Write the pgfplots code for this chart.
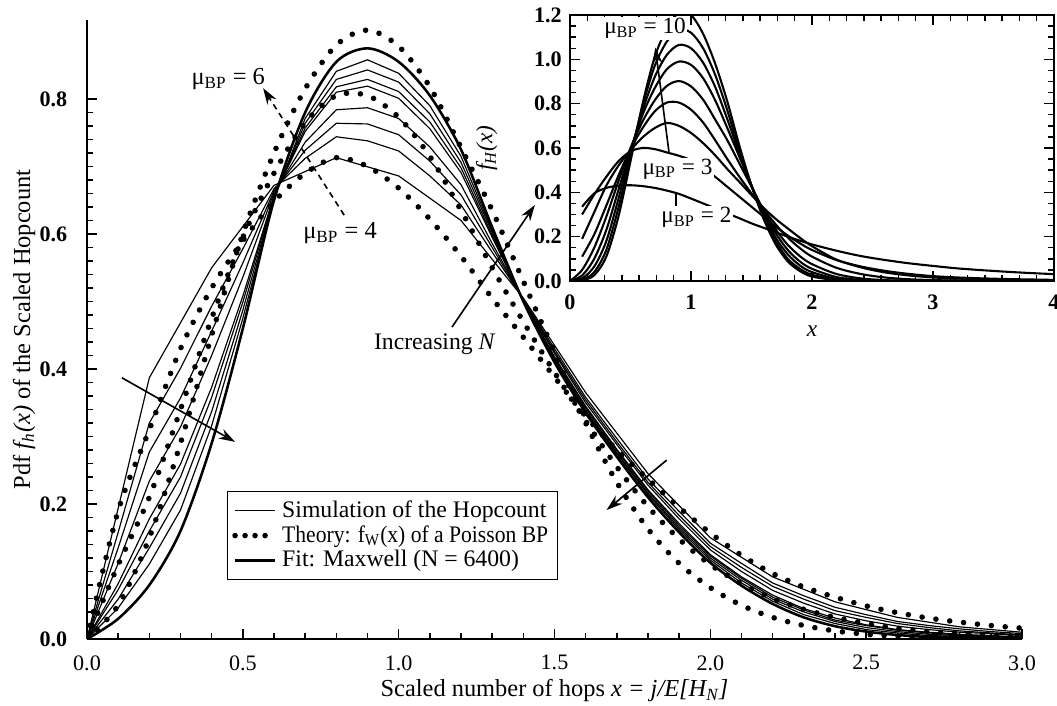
\documentclass[border=0pt]{standalone}
\usepackage{fontspec}
\setmainfont{Liberation Serif}
\usepackage{graphicx}
\usepackage{pgfplots}
\pgfplotsset{compat=1.18}
\usepackage{pgfplotstable}
\usetikzlibrary{arrows.meta}

% main plot: simulations (s..), Maxwell fit, theory mu=4,5,6
\pgfplotstableread{
x   s22   s36   s50   s68   s74   s82   s90   fit   m4    m5    m6
0.0 0     0     0     0     0     0     0     0     0     0     0
0.1 0.158 0.135 0.112 0.082 0.073 0.059 0.046 0.03  0.19  0.11  0.05
0.2 0.320 0.277 0.234 0.178 0.160 0.135 0.111 0.08  0.31  0.21  0.15
0.3 0.401 0.357 0.314 0.259 0.240 0.216 0.191 0.16  0.43  0.34  0.29
0.4 0.493 0.456 0.420 0.373 0.358 0.337 0.316 0.29  0.52  0.475 0.45
0.5 0.578 0.557 0.536 0.508 0.499 0.487 0.475 0.46  0.59  0.595 0.60
0.6 0.667 0.664 0.661 0.657 0.656 0.654 0.652 0.65  0.648 0.69  0.72
0.7 0.712 0.724 0.736 0.752 0.757 0.764 0.771 0.78  0.69  0.765 0.815
0.8 0.744 0.764 0.784 0.810 0.818 0.829 0.841 0.855 0.713 0.805 0.88
0.9 0.738 0.763 0.787 0.819 0.829 0.843 0.858 0.875 0.70  0.805 0.902
1.0 0.723 0.747 0.771 0.801 0.811 0.825 0.838 0.855 0.668 0.773 0.878
1.1 0.686 0.708 0.729 0.756 0.766 0.778 0.790 0.805 0.622 0.715 0.818
1.2 0.643 0.658 0.673 0.691 0.698 0.706 0.715 0.725 0.567 0.635 0.728
1.3 0.573 0.580 0.586 0.595 0.598 0.602 0.605 0.61  0.505 0.55  0.635
1.4 0.504 0.503 0.503 0.502 0.501 0.501 0.501 0.50  0.447 0.47  0.53
1.5 0.430 0.426 0.423 0.418 0.417 0.415 0.413 0.41  0.388 0.395 0.425
1.6 0.358 0.354 0.350 0.345 0.343 0.340 0.338 0.335 0.33  0.323 0.32
1.7 0.297 0.292 0.288 0.281 0.279 0.276 0.274 0.27  0.28  0.255 0.232
1.8 0.237 0.232 0.228 0.221 0.219 0.216 0.214 0.21  0.237 0.196 0.163
1.9 0.189 0.183 0.178 0.171 0.168 0.165 0.162 0.158 0.195 0.148 0.112
2.0 0.142 0.137 0.132 0.125 0.123 0.120 0.117 0.113 0.157 0.11  0.076
2.1 0.112 0.106 0.100 0.092 0.090 0.087 0.083 0.079 0.124 0.082 0.05
2.2 0.083 0.078 0.072 0.065 0.062 0.059 0.056 0.052 0.097 0.06  0.032
2.3 0.064 0.059 0.053 0.045 0.043 0.040 0.036 0.032 0.077 0.044 0.02
2.4 0.047 0.042 0.037 0.031 0.028 0.026 0.023 0.019 0.062 0.032 0.012
2.5 0.036 0.032 0.027 0.021 0.020 0.017 0.014 0.011 0.049 0.023 0.007
2.6 0.026 0.023 0.019 0.014 0.013 0.011 0.009 0.006 0.039 0.016 0.004
2.7 0.020 0.017 0.014 0.010 0.009 0.007 0.005 0.003 0.031 0.011 0.002
2.8 0.015 0.012 0.010 0.007 0.006 0.005 0.004 0.002 0.025 0.008 0.001
2.9 0.011 0.009 0.008 0.005 0.004 0.003 0.002 0.001 0.020 0.006 0.0
3.0 0.008 0.006 0.005 0.003 0.003 0.002 0.001 0.0   0.016 0.004 0.0
}\maintab

% lowest simulation curve (coarse hop grid)
\pgfplotstableread{
x   y
0.0 0
0.2 0.387
0.4 0.55
0.6 0.672
0.8 0.713
1.0 0.686
1.2 0.62
1.4 0.505
1.6 0.365
1.8 0.245
2.0 0.15
2.2 0.092
2.4 0.055
2.6 0.032
2.8 0.018
3.0 0.01
}\lowsim

% inset: f_W(x) for mu = 2..10
\pgfplotstableread{
x   m2    m3    m4    m5    m6    m7    m8    m9    m10
0.0 nan   nan   nan   nan   0     0     0     0     0
0.1 0.335 0.30  0.19  0.11  0.05  0.025 0.012 0.006 0.003
0.2 0.395 0.39  0.31  0.21  0.15  0.10  0.065 0.04  0.026
0.3 0.42  0.47  0.43  0.34  0.29  0.23  0.18  0.14  0.11
0.4 0.43  0.54  0.52  0.475 0.45  0.41  0.37  0.33  0.29
0.5 0.432 0.585 0.59  0.595 0.60  0.59  0.58  0.56  0.54
0.6 0.428 0.60  0.648 0.69  0.72  0.75  0.77  0.79  0.80
0.7 0.42  0.595 0.69  0.765 0.815 0.87  0.92  0.97  1.01
0.8 0.408 0.58  0.713 0.805 0.88  0.955 1.02  1.08  1.14
0.9 0.393 0.565 0.70  0.805 0.902 0.99  1.065 1.133 1.21
1.0 0.372 0.545 0.668 0.773 0.878 0.975 1.05  1.12  1.20
1.1 0.35  0.51  0.622 0.715 0.818 0.915 0.985 1.05  1.115
1.2 0.328 0.47  0.567 0.635 0.728 0.815 0.875 0.93  0.98
1.3 0.305 0.425 0.505 0.55  0.635 0.69  0.73  0.77  0.81
1.4 0.283 0.38  0.447 0.47  0.53  0.56  0.575 0.59  0.61
1.5 0.26  0.335 0.388 0.395 0.425 0.43  0.43  0.43  0.43
1.6 0.24  0.29  0.33  0.323 0.32  0.31  0.30  0.29  0.28
1.7 0.22  0.245 0.28  0.255 0.232 0.215 0.195 0.18  0.165
1.8 0.20  0.205 0.237 0.196 0.163 0.14  0.12  0.10  0.088
1.9 0.182 0.17  0.195 0.148 0.112 0.088 0.07  0.055 0.045
2.0 0.165 0.14  0.157 0.11  0.076 0.055 0.04  0.028 0.02
2.2 0.137 0.095 0.097 0.06  0.032 0.018 0.01  0.006 0.004
2.4 0.113 0.066 0.062 0.032 0.012 0.005 0.002 0.001 0
2.6 0.095 0.046 0.039 0.016 0.004 0.001 0     0     0
2.8 0.08  0.032 0.025 0.008 0.001 0     0     0     0
3.0 0.068 0.022 0.016 0.004 0     0     0     0     0
3.2 0.057 0.016 0.011 0.002 0     0     0     0     0
3.4 0.049 0.012 0.007 0.001 0     0     0     0     0
3.6 0.042 0.009 0.005 0.001 0     0     0     0     0
3.8 0.036 0.007 0.003 0     0     0     0     0     0
4.0 0.031 0.005 0.002 0     0     0     0     0     0
}\insettab

\pgfplotsset{
  simline/.style={black, line width=0.5pt, forget plot},
  theoline/.style={black, line width=2.4pt, line cap=round, dash pattern=on 0pt off 6pt, smooth, forget plot},
  fitline/.style={black, line width=1.1pt, smooth, forget plot},
  insline/.style={black, line width=0.9pt, smooth, forget plot},
}
\tikzset{
  arr/.style={line width=0.7pt, -{Stealth[length=7pt,width=4.5pt]}},
}

\begin{document}
\begin{tikzpicture}
\begin{axis}[
  at={(37.41pt,28.38pt)}, anchor=south west,
  scale only axis, width=402.05pt, height=266.17pt,
  xmin=0, xmax=3, ymin=0, ymax=0.917,
  axis x line*=bottom, axis y line*=left,
  axis line style={line width=0.7pt, -},
  xtick={0,0.5,1,1.5,2,2.5,3}, ytick={0,0.2,0.4,0.6,0.8},
  minor x tick num=4, minor y tick num=9,
  tick align=inside, major tick length=4.5pt, minor tick length=2.5pt,
  tick style={line width=0.6pt, black},
  /pgf/number format/assume math mode=true,
  xticklabel style={font=\fontsize{9.5}{11}\selectfont,
    /pgf/number format/fixed, /pgf/number format/fixed zerofill, /pgf/number format/precision=1},
  yticklabel style={font=\bfseries\fontsize{9.5}{11}\selectfont,
    /pgf/number format/fixed, /pgf/number format/fixed zerofill, /pgf/number format/precision=1},
  xticklabel shift=3.5pt, yticklabel shift=5pt,
  xlabel={Scaled number of hops \textit{x = j/E[H\textsubscript{N}]}},
  ylabel={Pdf \textit{f\textsubscript{h}(x)} of the Scaled Hopcount},
  xlabel shift=-3pt, ylabel shift=-5pt,
  label style={font=\fontsize{10.5}{12}\selectfont},
  legend style={at={(axis cs:0.449,0.087)}, anchor=south west, draw=black, line width=0.6pt,
    font=\fontsize{10.2}{10.2}\selectfont, row sep=-2pt, inner sep=2pt},
  legend cell align=left,
]
\addlegendimage{black, line width=0.5pt}
\addlegendentry{Simulation of the Hopcount}
\addlegendimage{black, line width=2.4pt, line cap=round, dash pattern=on 0pt off 4.3pt}
\addlegendentry{\scalebox{0.91}[1]{Theory: f\textsubscript{W}(x) of a Poisson BP}}
\addlegendimage{black, line width=1.1pt}
\addlegendentry{Fit: Maxwell (N = 6400)}

\addplot[simline] table[x=x, y=y] {\lowsim};
\addplot[simline] table[x=x, y=s22] {\maintab};
\addplot[simline] table[x=x, y=s36] {\maintab};
\addplot[simline] table[x=x, y=s50] {\maintab};
\addplot[simline] table[x=x, y=s68] {\maintab};
\addplot[simline] table[x=x, y=s74] {\maintab};
\addplot[simline] table[x=x, y=s82] {\maintab};
\addplot[simline] table[x=x, y=s90] {\maintab};
\addplot[fitline] table[x=x, y=fit] {\maintab};
\addplot[theoline] table[x=x, y=m4] {\maintab};
\addplot[theoline] table[x=x, y=m5] {\maintab};
\addplot[theoline] table[x=x, y=m6] {\maintab};

\draw[arr] (axis cs:0.112,0.387) -- (axis cs:0.475,0.292);
\draw[arr] (axis cs:1.171,0.462) -- (axis cs:1.437,0.643);
\draw[arr] (axis cs:1.86,0.265) -- (axis cs:1.667,0.191);
\draw[arr, dash pattern=on 2.5pt off 2pt] (axis cs:0.825,0.628) -- (axis cs:0.565,0.816);
\node[font=\fontsize{10.2}{12}\selectfont] at (axis cs:1.116,0.436) {Increasing \textit{N}};
\node[font=\fontsize{10.5}{12}\selectfont] at (axis cs:0.453,0.830) {μ\textsubscript{BP} = 6};
\node[font=\fontsize{10.5}{12}\selectfont] at (axis cs:0.812,0.601) {μ\textsubscript{BP} = 4};
\end{axis}

\begin{axis}[
  at={(245.1pt,182.32pt)}, anchor=south west,
  scale only axis, width=208.12pt, height=114.38pt,
  xmin=0, xmax=4, ymin=0, ymax=1.2,
  axis background/.style={fill=white},
  axis line style={line width=0.7pt},
  xtick={0,1,2,3,4}, ytick={0,0.2,0.4,0.6,0.8,1.0,1.2},
  minor x tick num=6, minor y tick num=3,
  tick align=inside, major tick length=4.5pt, minor tick length=2.5pt,
  tick style={line width=0.6pt, black},
  /pgf/number format/assume math mode=true,
  xticklabel style={font=\bfseries\fontsize{9.5}{11}\selectfont},
  yticklabel style={font=\bfseries\fontsize{9.5}{11}\selectfont,
    /pgf/number format/fixed, /pgf/number format/fixed zerofill, /pgf/number format/precision=1},
  xticklabel shift=2.4pt, yticklabel shift=0pt,
  xlabel={\textit{x}}, ylabel={\textit{f\textsubscript{H}(x)}},
  label style={font=\fontsize{10}{12}\selectfont},
  ylabel shift=9pt,
]
\addplot[insline] table[x=x, y=m2] {\insettab};
\addplot[insline] table[x=x, y=m3] {\insettab};
\addplot[insline] table[x=x, y=m4] {\insettab};
\addplot[insline] table[x=x, y=m5] {\insettab};
\addplot[insline] table[x=x, y=m6] {\insettab};
\addplot[insline] table[x=x, y=m7] {\insettab};
\addplot[insline] table[x=x, y=m8] {\insettab};
\addplot[insline] table[x=x, y=m9] {\insettab};
\addplot[insline] table[x=x, y=m10] {\insettab};

\draw[arr] (axis cs:0.818,0.581) -- (axis cs:0.705,1.053);
\draw[line width=0.7pt] (axis cs:0.874,0.40) -- (axis cs:0.874,0.34);
\node[fill=white, inner sep=0.5pt, font=\fontsize{10}{12}\selectfont] at (axis cs:0.62,1.139) {μ\textsubscript{BP} = 10};
\node[fill=white, inner sep=0.5pt, font=\fontsize{10}{12}\selectfont] at (axis cs:0.888,0.504) {μ\textsubscript{BP} = 3};
\node[fill=white, inner sep=0.5pt, font=\fontsize{10}{12}\selectfont] at (axis cs:1.045,0.287) {μ\textsubscript{BP} = 2};
\end{axis}

\pgfresetboundingbox
\path[use as bounding box] (0pt,0pt) rectangle (454.51pt,303.15pt);
\end{tikzpicture}
\end{document}
